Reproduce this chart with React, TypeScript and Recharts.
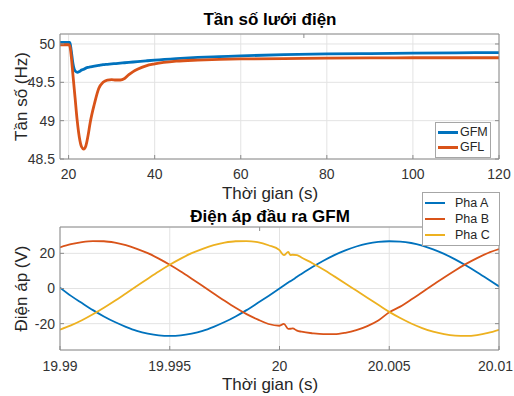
import { LineChart, Line, XAxis, YAxis, CartesianGrid, Legend } from 'recharts';

// Tần số lưới điện (Hz)
const freqTime = [
  18, 19, 20, 20.3, 20.6, 21, 21.5, 22, 22.5, 23, 23.5, 24, 24.5, 25, 26, 27, 28, 29, 30, 31, 32,
  33, 34, 35, 36, 38, 40, 45, 50, 55, 60, 70, 80, 90, 100, 110, 120,
];
const gfm = [
  50.02, 50.02, 50.02, 50.02, 49.92, 49.75, 49.65, 49.63, 49.64, 49.66, 49.67, 49.685, 49.695, 49.7,
  49.71, 49.72, 49.73, 49.735, 49.74, 49.745, 49.75, 49.755, 49.76, 49.765, 49.77, 49.78, 49.79,
  49.81, 49.825, 49.835, 49.845, 49.86, 49.87, 49.875, 49.88, 49.885, 49.887,
];
const gfl = [
  49.99, 49.99, 49.99, 49.97, 49.85, 49.6, 49.3, 49.0, 48.78, 48.66, 48.63, 48.67, 48.8, 48.97,
  49.22, 49.42, 49.5, 49.53, 49.535, 49.53, 49.53, 49.55, 49.6, 49.64, 49.67, 49.715, 49.74,
  49.775, 49.79, 49.8, 49.805, 49.81, 49.815, 49.818, 49.82, 49.82, 49.82,
];
const freqXTicks = [20, 40, 60, 80, 100, 120];
const freqYTicks = [48.5, 49, 49.5, 50];

// Điện áp đầu ra GFM (V)
const voltTime = [
  19.99, 19.9905, 19.991, 19.9915, 19.992, 19.9925, 19.993, 19.9935, 19.994, 19.9945, 19.995,
  19.9955, 19.996, 19.9965, 19.997, 19.9975, 19.998, 19.9985, 19.999, 19.9995, 20.0, 20.0002,
  20.0004, 20.0005, 20.0006, 20.0008, 20.001, 20.0015, 20.002, 20.0025, 20.003, 20.0035, 20.004,
  20.0045, 20.005, 20.0055, 20.006, 20.0065, 20.007, 20.0075, 20.008, 20.0085, 20.009, 20.0095,
  20.01,
];
const phaseA = [
  0.5, -4.2, -8.3, -12.3, -15.9, -19.1, -21.8, -24.1, -25.7, -26.7, -27.0, -26.7, -25.7, -24.1,
  -21.8, -19.1, -15.9, -12.3, -8.3, -4.2, 0, 1.7, 3.4, 4.2, 5.0, 6.7, 8.3, 12.2, 15.8, 19.0, 21.7,
  23.9, 25.5, 26.5, 26.9, 26.7, 25.9, 24.4, 22.3, 19.7, 16.6, 13.1, 9.3, 5.3, 1.2,
];
const phaseB = [
  23.4, 25.2, 26.4, 27.0, 26.9, 26.1, 24.7, 22.6, 20.1, 17.0, 13.5, 9.7, 5.6, 1.4, -2.8, -7.0,
  -11.0, -14.6, -17.6, -20.2, -21.2, -20.1, -23.0, -22.9, -22.7, -24.0, -24.6, -25.5, -26.0, -26.0,
  -25.2, -23.7, -21.4, -18.2, -13.5, -10.3, -6.3, -2.1, 2.1, 6.3, 10.3, 14.0, 17.3, 20.2, 22.4,
];
const phaseC = [
  -23.4, -21.0, -18.1, -14.7, -11.0, -7.0, -2.8, 1.4, 5.6, 9.7, 13.5, 17.0, 20.1, 22.6, 24.7,
  26.1, 26.9, 27.0, 26.4, 24.6, 21.8, 19.0, 20.8, 19.0, 19.2, 19.0, 17.6, 14.4, 10.8, 6.9, 2.9,
  -1.2, -5.3, -9.3, -13.3, -16.8, -19.9, -22.5, -24.6, -26.0, -26.8, -27.0, -26.5, -25.3, -23.5,
];
const voltXTicks = [19.99, 19.995, 20, 20.005, 20.01];
const voltYTicks = [-20, 0, 20];

const BLUE = '#0072BD';
const ORANGE = '#D95319';
const YELLOW = '#EDB120';
const AXIS = '#8c8c8c';
const GRID = '#e3e3e3';
const TEXT = '#262626';

const freqSeries = [
  { key: 'GFM', color: BLUE },
  { key: 'GFL', color: ORANGE },
];
const voltSeries = [
  { key: 'Pha A', color: BLUE },
  { key: 'Pha B', color: ORANGE },
  { key: 'Pha C', color: YELLOW },
];

const freqData = freqTime.map((t, i) => ({ t, GFM: gfm[i], GFL: gfl[i] }));
const voltData = voltTime.map((t, i) => ({
  t,
  'Pha A': phaseA[i],
  'Pha B': phaseB[i],
  'Pha C': phaseC[i],
}));

const tickStyle = { fill: '#333', fontSize: 14 };

// keeps the last time label inside the page
const VoltTick = (props: any) => {
  const { x, y, payload } = props;
  const last = payload.value === voltXTicks[voltXTicks.length - 1];
  return (
    <text
      x={last ? 513 : x}
      y={y}
      dy="0.71em"
      textAnchor={last ? 'end' : 'middle'}
      fill="#333"
      fontSize={14}
    >
      {payload.value}
    </text>
  );
};

const xLabel = (text: string, y: number) => () => (
  <text x={270} y={y} textAnchor="middle" fontSize={17} fill={TEXT}>
    {text}
  </text>
);

const yLabel = (text: string, y: number) => () => (
  <text
    x={27}
    y={y}
    transform={`rotate(-90, 27, ${y})`}
    textAnchor="middle"
    fontSize={17}
    fill={TEXT}
  >
    {text}
  </text>
);

function LegendBox({
  items,
  width,
  rowHeight,
  lineWidth,
  gap,
}: {
  items: { key: string; color: string }[];
  width: number;
  rowHeight: number;
  lineWidth: number;
  gap: number;
}) {
  return (
    <div
      style={{
        width,
        boxSizing: 'border-box',
        background: '#fff',
        border: '1px solid #a6a6a6',
        padding: '2px 0',
      }}
    >
      {items.map((s) => (
        <div key={s.key} style={{ display: 'flex', alignItems: 'center', height: rowHeight }}>
          <span
            style={{
              display: 'inline-block',
              width: 20,
              height: lineWidth,
              background: s.color,
              marginLeft: 2,
              marginRight: gap,
            }}
          />
          <span style={{ fontSize: 12.5, color: TEXT, lineHeight: 1 }}>{s.key}</span>
        </div>
      ))}
    </div>
  );
}

const titleStyle = {
  position: 'absolute' as const,
  left: 0,
  width: 540,
  textAlign: 'center' as const,
  fontSize: 17,
  fontWeight: 'bold' as const,
  lineHeight: '17px',
  color: '#000',
};

export default function App() {
  return (
    <div
      style={{
        position: 'absolute',
        left: 0,
        top: 0,
        width: 514,
        height: 396,
        background: '#fff',
        fontFamily: '"Liberation Sans", Arial, "DejaVu Sans", sans-serif',
      }}
    >
      <div style={{ position: 'absolute', left: 0, top: 0 }}>
        <LineChart
          width={514}
          height={210}
          data={freqData}
          margin={{ top: 33, right: 14, bottom: 21, left: 10 }}
        >
          <CartesianGrid stroke={GRID} />
          <XAxis
            dataKey="t"
            type="number"
            domain={[18, 120]}
            ticks={freqXTicks}
            allowDataOverflow
            height={30}
            stroke={AXIS}
            tickSize={-4}
            tickMargin={14}
            tick={tickStyle}
            label={xLabel('Thời gian (s)', 198.5)}
          />
          <XAxis
            xAxisId="top"
            orientation="top"
            type="number"
            domain={[18, 120]}
            ticks={freqXTicks}
            allowDataOverflow
            height={1}
            stroke={AXIS}
            tickSize={-4}
            tickFormatter={() => ''}
          />
          <YAxis
            type="number"
            domain={[48.5, 50.13]}
            ticks={freqYTicks}
            allowDataOverflow
            width={50}
            stroke={AXIS}
            tickSize={-4}
            tickMargin={9}
            tick={tickStyle}
            label={yLabel('Tần số (Hz)', 96.5)}
          />
          <YAxis
            yAxisId="right"
            orientation="right"
            type="number"
            domain={[48.5, 50.13]}
            ticks={freqYTicks}
            allowDataOverflow
            width={1}
            stroke={AXIS}
            tickSize={-4}
            tickFormatter={() => ''}
          />
          {freqSeries.map((s) => (
            <Line
              key={s.key}
              type="monotone"
              dataKey={s.key}
              name={s.key}
              stroke={s.color}
              strokeWidth={2.8}
              dot={false}
              isAnimationActive={false}
            />
          ))}
          <Legend
            layout="vertical"
            align="center"
            verticalAlign="middle"
            wrapperStyle={{ left: 435, top: 122, width: 56 }}
            content={() => (
              <LegendBox items={freqSeries} width={56} rowHeight={15} lineWidth={3} gap={2} />
            )}
          />
        </LineChart>
      </div>

      <div style={{ position: 'absolute', left: 0, top: 200 }}>
        <LineChart
          width={514}
          height={196}
          data={voltData}
          margin={{ top: 26, right: 14, bottom: 16, left: 10 }}
        >
          <CartesianGrid stroke={GRID} />
          <XAxis
            dataKey="t"
            type="number"
            domain={[19.99, 20.01]}
            ticks={voltXTicks}
            allowDataOverflow
            height={30}
            stroke={AXIS}
            tickSize={-4}
            tickMargin={15}
            tick={<VoltTick />}
            label={xLabel('Thời gian (s)', 190)}
          />
          <XAxis
            xAxisId="top"
            orientation="top"
            type="number"
            domain={[19.99, 20.01]}
            ticks={voltXTicks}
            allowDataOverflow
            height={1}
            stroke={AXIS}
            tickSize={-4}
            tickFormatter={() => ''}
          />
          <YAxis
            type="number"
            domain={[-35, 35]}
            ticks={voltYTicks}
            allowDataOverflow
            width={50}
            stroke={AXIS}
            tickSize={-4}
            tickMargin={9}
            tick={tickStyle}
            label={yLabel('Điện áp (V)', 88.5)}
          />
          <YAxis
            yAxisId="right"
            orientation="right"
            type="number"
            domain={[-35, 35]}
            ticks={voltYTicks}
            allowDataOverflow
            width={1}
            stroke={AXIS}
            tickSize={-4}
            tickFormatter={() => ''}
          />
          {voltSeries.map((s) => (
            <Line
              key={s.key}
              type="monotone"
              dataKey={s.key}
              name={s.key}
              stroke={s.color}
              strokeWidth={1.8}
              dot={false}
              isAnimationActive={false}
            />
          ))}
          <Legend
            layout="vertical"
            align="center"
            verticalAlign="middle"
            wrapperStyle={{ left: 422, top: -8, width: 78 }}
            content={() => (
              <LegendBox items={voltSeries} width={78} rowHeight={16} lineWidth={2} gap={10} />
            )}
          />
        </LineChart>
      </div>

      <div style={{ ...titleStyle, top: 11 }}>Tần số lưới điện</div>
      <div style={{ ...titleStyle, top: 207.5 }}>Điện áp đầu ra GFM</div>
    </div>
  );
}
